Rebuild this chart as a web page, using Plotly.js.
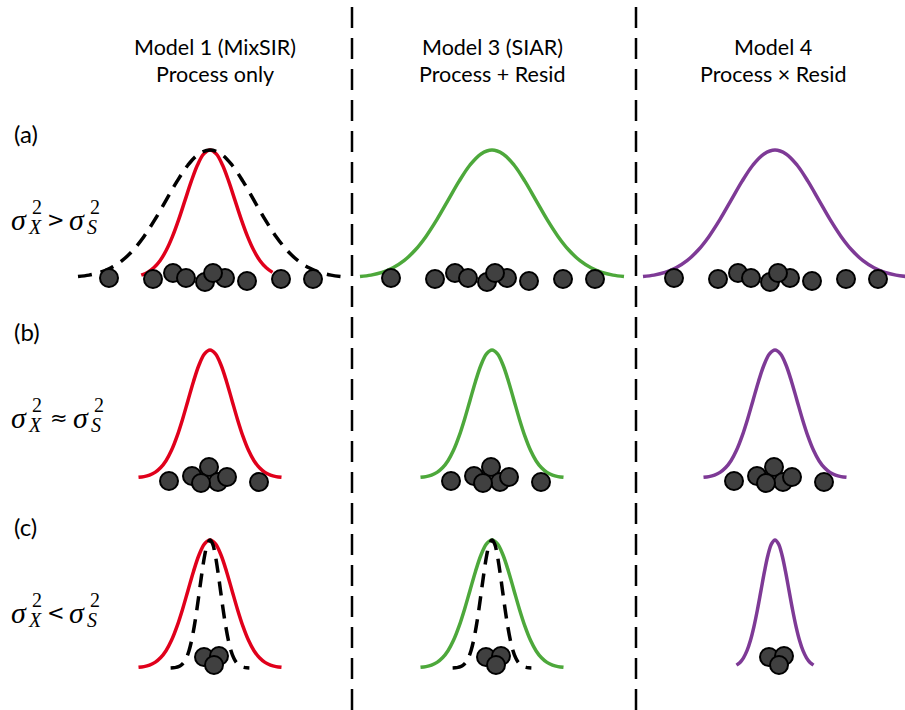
<!DOCTYPE html>
<html>
<head>
<meta charset="utf-8">
<script src="https://cdn.plot.ly/plotly-3.0.1.min.js"></script>
<style>html,body{margin:0;padding:0;background:#fff;}#chart{width:905px;height:710px;}</style>
</head>
<body>
<div id="chart"></div>
<script>
// ---------- DATA ----------
// Column headers (models) and row labels
const modelNames = ["Model 1 (MixSIR)", "Model 3 (SIAR)", "Model 4"];
const modelTypes = ["Process only", "Process + Resid", "Process \u00d7 Resid"];
const rowTags = ["(a)", "(b)", "(c)"];
const rowRelations = [">", "\u2248", "<"];

// Standard bell profile (z = distance from centre in SDs, height)
const bellZ = [-3.75,-3.5,-3.25,-3,-2.75,-2.5,-2.25,-2,-1.75,-1.5,-1.25,-1,-0.75,-0.5,-0.25,0,
               0.25,0.5,0.75,1,1.25,1.5,1.75,2,2.25,2.5,2.75,3,3.25,3.5,3.75];
const bellH = [0.11,0.28,0.65,1.4,2.9,5.6,10.2,17.3,27.7,41.6,58.6,77.6,96.6,113.0,124.1,128,
               124.1,113.0,96.6,77.6,58.6,41.6,27.7,17.3,10.2,5.6,2.9,1.4,0.65,0.28,0.11];

// Coloured (model) curve spread for each row, per model column
const solidSdA = [25, 44, 44];
const solidSdB = [22, 22, 22];
const solidSdC = [22, 22, 14];
const solidLoA = [-2.75, -3, -3];
const solidHiA = [2.5, 3, 3];
const solidLoB = [-3.25, -3.25, -3.25];
const solidHiB = [3.25, 3.25, 3.25];
const solidLoC = [-3.25, -3.25, -2.75];
const solidHiC = [3.25, 3.25, 2.75];

// Black dashed (true) curves: row, column, sd, lo, hi
const dashRows = [0, 2, 2];
const dashCols = [0, 0, 1];
const dashSd = [44, 10.5, 10.5];
const dashLo = [-3, -3.75, -3.75];
const dashHi = [3, 3.75, 3.75];

// Observed points (offset from curve centre, height above baseline)
const ptsAx = [-101, -57, -37, -24, -5, 15, 3, 37, 71, 103];
const ptsAy = [0, -1, 5, 0, -4, 0, 5, -3, -1, -1];
const ptsBx = [-41, -18, -1, 8, 17, -9, 49];
const ptsBy = [-3, 2, 11, -4, 1, -5, -4];
const ptsCx = [-6, 9, 4];
const ptsCy = [11, 12, 3];

// ---------- STYLE / LAYOUT ----------
const W = 905, H = 710;
const colColors = ["#E0001B", "#4DA83B", "#7E3A96"];
const colCenterPx = [210, 492, 775];
const colDomPx = [[0, 352], [352, 636], [636, 905]];
const rowBasePx = [278, 478, 668];
const rowDomPx = [[100, 300], [300, 500], [500, 700]];

const sdRows = [solidSdA, solidSdB, solidSdC];
const loRows = [solidLoA, solidLoB, solidLoC];
const hiRows = [solidHiA, solidHiB, solidHiC];
const ptsX = [ptsAx, ptsBx, ptsCx];
const ptsY = [ptsAy, ptsBy, ptsCy];

function axId(prefix, i) { return prefix + (i === 0 ? "" : (i + 1)); }

function bell(sd, lo, hi) {
  const xs = [], ys = [];
  for (let i = 0; i < bellZ.length; i++) {
    if (bellZ[i] >= lo - 1e-9 && bellZ[i] <= hi + 1e-9) {
      xs.push(bellZ[i] * sd);
      ys.push(bellH[i]);
    }
  }
  return {x: xs, y: ys};
}

const traces = [];
// coloured curves
for (let r = 0; r < 3; r++) {
  for (let c = 0; c < 3; c++) {
    const b = bell(sdRows[r][c], loRows[r][c], hiRows[r][c]);
    traces.push({
      type: "scatter", mode: "lines", x: b.x, y: b.y,
      xaxis: axId("x", c), yaxis: axId("y", r),
      line: {color: colColors[c], width: 3.5, shape: "spline"},
      hoverinfo: "skip"
    });
  }
}
// dashed curves
for (let k = 0; k < dashSd.length; k++) {
  const b = bell(dashSd[k], dashLo[k], dashHi[k]);
  traces.push({
    type: "scatter", mode: "lines", x: b.x, y: b.y,
    xaxis: axId("x", dashCols[k]), yaxis: axId("y", dashRows[k]),
    line: {color: "#000", width: 3.5, dash: "14px,9px", shape: "spline"},
    hoverinfo: "skip"
  });
}
// points
for (let r = 0; r < 3; r++) {
  for (let c = 0; c < 3; c++) {
    traces.push({
      type: "scatter", mode: "markers", x: ptsX[r], y: ptsY[r],
      xaxis: axId("x", c), yaxis: axId("y", r),
      marker: {size: 18, color: "#404040", line: {color: "#000", width: 2}},
      cliponaxis: false, hoverinfo: "skip"
    });
  }
}

const layout = {
  width: W, height: H,
  margin: {l: 0, r: 0, t: 0, b: 0, pad: 0},
  paper_bgcolor: "#fff", plot_bgcolor: "rgba(0,0,0,0)",
  showlegend: false,
  shapes: [], annotations: []
};
for (let c = 0; c < 3; c++) {
  layout[axId("xaxis", c)] = {
    domain: [colDomPx[c][0] / W, colDomPx[c][1] / W],
    range: [colDomPx[c][0] - colCenterPx[c], colDomPx[c][1] - colCenterPx[c]],
    visible: false, anchor: "y"
  };
}
for (let r = 0; r < 3; r++) {
  layout[axId("yaxis", r)] = {
    domain: [1 - rowDomPx[r][1] / H, 1 - rowDomPx[r][0] / H],
    range: [rowBasePx[r] - rowDomPx[r][1], rowBasePx[r] - rowDomPx[r][0]],
    visible: false, anchor: "x"
  };
}
// vertical dashed separators
[352, 636].forEach(function (xp) {
  layout.shapes.push({
    type: "line", xref: "paper", yref: "paper",
    x0: xp / W, x1: xp / W, y0: 0, y1: 1,
    line: {color: "#000", width: 2.5, dash: "21px,10px"}
  });
});

function ann(xp, yp, text, size, family, xanchor) {
  layout.annotations.push({
    xref: "paper", yref: "paper", x: xp / W, y: 1 - yp / H,
    text: text, showarrow: false, xanchor: xanchor || "center", yanchor: "middle",
    font: {size: size, family: family, color: "#000"}
  });
}
const sansFont = "Lato, 'Noto Sans', sans-serif";
const mathFont = "'Liberation Serif', 'DejaVu Serif', serif";
const relFont = "'DejaVu Sans', sans-serif";
const headCx = [215, 492, 773];
for (let c = 0; c < 3; c++) {
  ann(headCx[c], 47, modelNames[c], 21.5, sansFont);
  ann(headCx[c], 74, modelTypes[c], 21.5, sansFont);
}
const tagY = [134, 331, 526];
const relY = [219, 417, 612];
for (let r = 0; r < 3; r++) {
  ann(12, tagY[r], rowTags[r], 24, sansFont, "left");
  const y = relY[r];
  const s2 = r === 1 ? 81 : 77;
  ann(19, y, "<i>\u03c3</i>", 30, mathFont);
  ann(37, y - 12, "2", 20, mathFont);
  ann(35, y + 8, "<i>X</i>", 20, mathFont);
  ann(r === 1 ? 59 : 56, y + 1, rowRelations[r], 21, relFont);
  ann(s2, y, "<i>\u03c3</i>", 30, mathFont);
  ann(s2 + 18, y - 12, "2", 20, mathFont);
  ann(s2 + 15, y + 8, "<i>S</i>", 20, mathFont);
}

Plotly.newPlot("chart", traces, layout, {staticPlot: true, displayModeBar: false});
</script>
</body>
</html>
